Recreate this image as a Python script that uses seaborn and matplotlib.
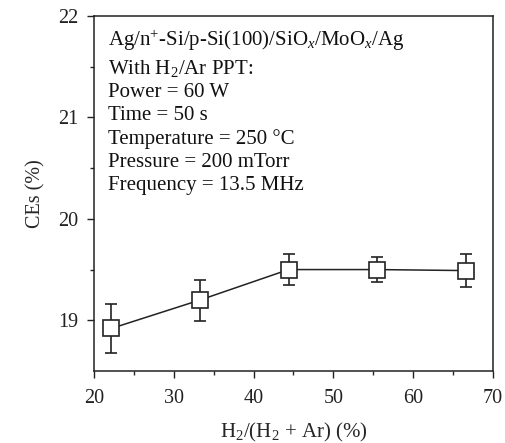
import matplotlib
matplotlib.use("Agg")
import matplotlib.pyplot as plt
import seaborn as sns
import pandas as pd

# data
h2_ratio = [22.2, 33.3, 44.4, 55.5, 66.6]
ce = [18.92, 19.20, 19.50, 19.50, 19.49]
err_hi = [0.24, 0.20, 0.15, 0.12, 0.16]
err_lo = [0.24, 0.21, 0.15, 0.12, 0.16]
info_lines = [
    r"Ag/n$^{+}$-Si/p-Si(100)/SiO$_{\mathit{x}}$/MoO$_{\mathit{x}}$/Ag",
    r"With H$_2$/Ar PPT:",
    "Power = 60 W",
    "Time = 50 s",
    "Temperature = 250 °C",
    "Pressure = 200 mTorr",
    "Frequency = 13.5 MHz",
]

sns.set_style("ticks")
plt.rcParams["font.family"] = ["Liberation Serif", "DejaVu Serif"]
plt.rcParams["mathtext.fontset"] = "custom"
plt.rcParams["mathtext.rm"] = "Liberation Serif"
plt.rcParams["mathtext.it"] = "Liberation Serif:italic"
plt.rcParams["mathtext.bf"] = "Liberation Serif:bold"

df = pd.DataFrame({"x": h2_ratio, "y": ce})

fig = plt.figure(figsize=(5.05, 4.43), dpi=100)
ax = fig.add_axes([0.186, 0.1625, 0.79, 0.8015])

ax.errorbar(h2_ratio, ce, yerr=[err_lo, err_hi], fmt="none", ecolor="#222222",
            elinewidth=1.2, capsize=4, capthick=1.2, zorder=2)
sns.lineplot(data=df, x="x", y="y", ax=ax, color="#222222", linewidth=1.1,
             marker="s", markersize=11, markerfacecolor="white",
             markeredgecolor="#222222", markeredgewidth=1.2, zorder=3)

ax.set_xlim(20, 70)
ax.set_ylim(18.5, 22)
ax.set_xticks([20, 30, 40, 50, 60, 70])
ax.set_xticks([25, 35, 45, 55, 65], minor=True)
ax.set_yticks([19, 20, 21, 22])
ax.set_yticks([19.5, 20.5, 21.5], minor=True)
ax.tick_params(axis="both", which="major", direction="out", length=5, width=1,
               labelsize=14.5, colors="#222222", pad=6)
ax.tick_params(axis="x", which="major", pad=8)
ax.tick_params(axis="both", which="minor", direction="out", length=3, width=1)
for s in ax.spines.values():
    s.set_linewidth(1.1)
    s.set_color("#222222")

ax.set_xlabel(r"H$_2$/(H$_2$ + Ar) (%)", fontsize=15, labelpad=9)
ax.set_ylabel("CEs (%)", fontsize=14.5, labelpad=9)

ax.text(0.035, 0.965, "\n".join(info_lines), transform=ax.transAxes,
        ha="left", va="top", fontsize=15, linespacing=1.28, color="#111111")

fig.savefig("out.png", dpi=100)
